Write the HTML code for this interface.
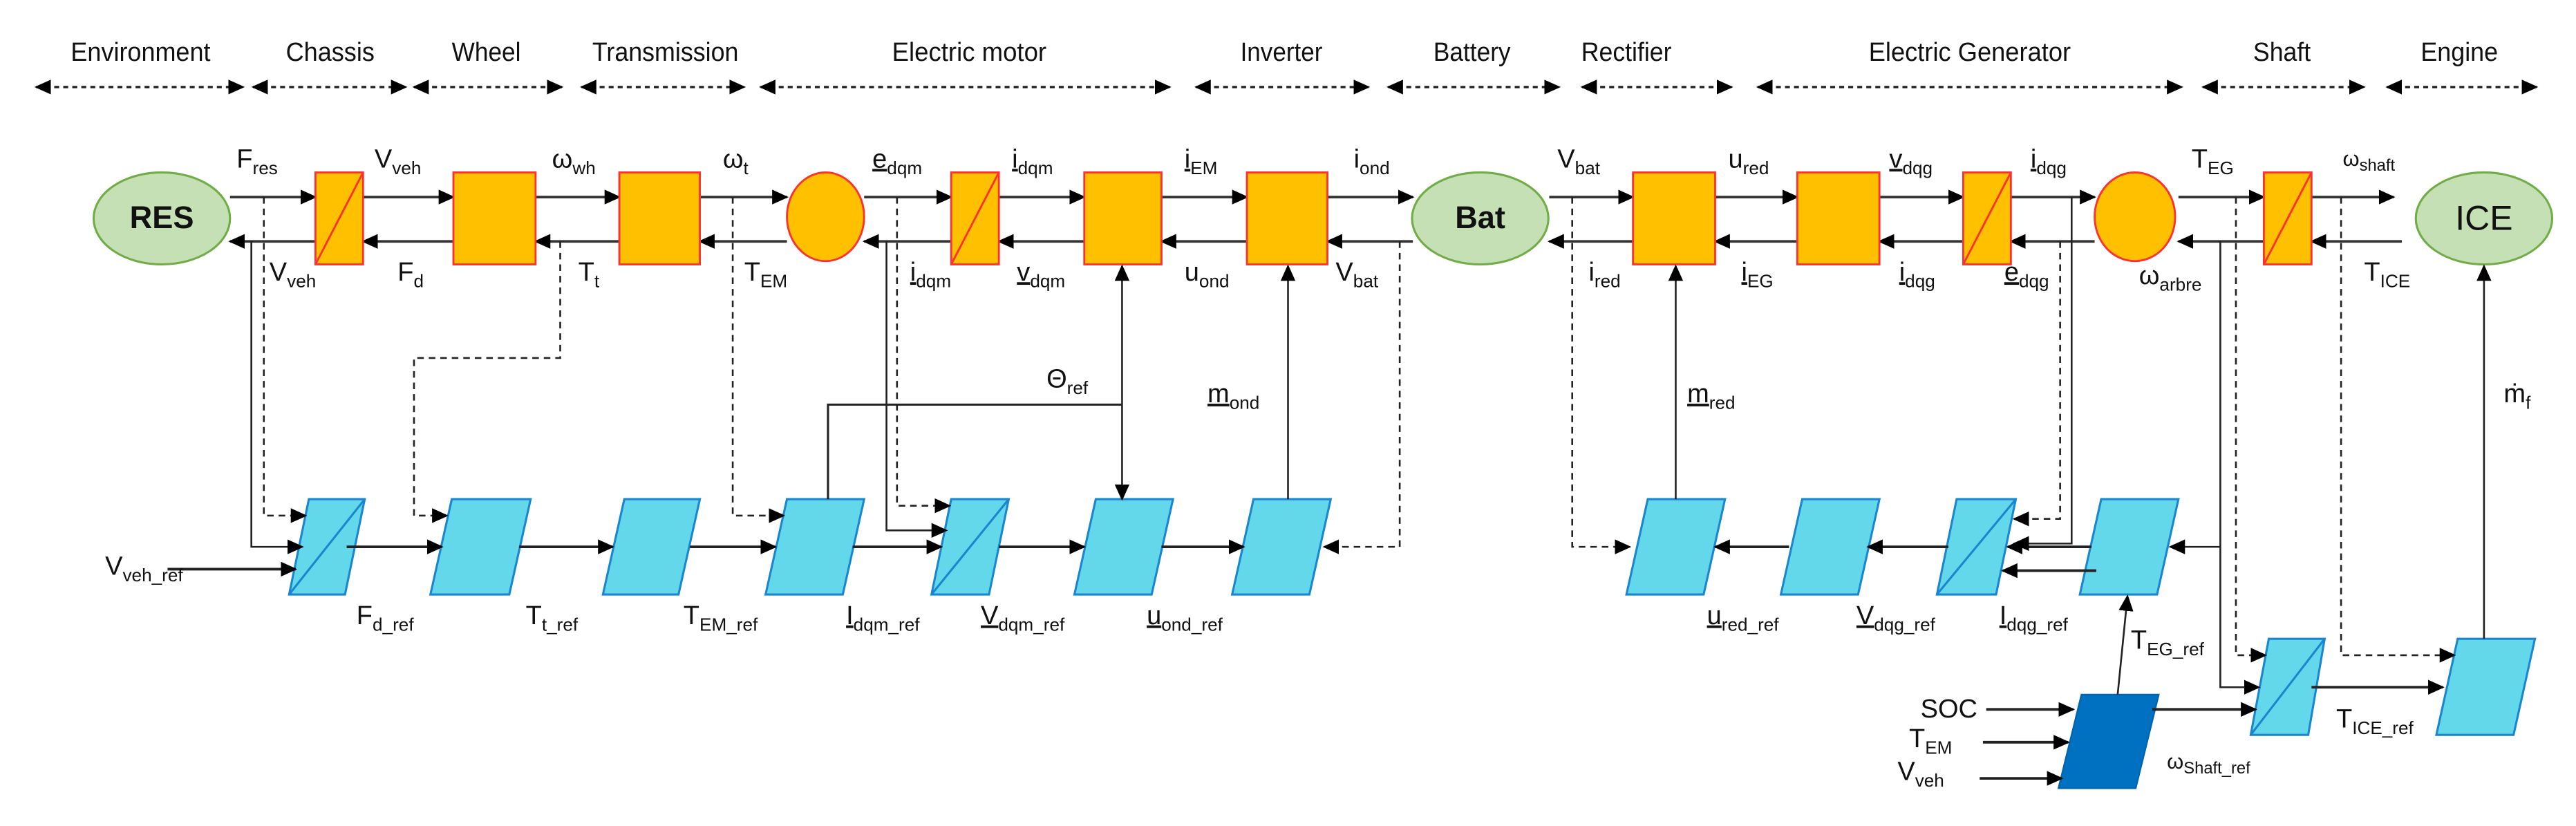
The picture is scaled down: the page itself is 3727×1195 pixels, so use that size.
<!DOCTYPE html>
<html><head><meta charset="utf-8"><style>
html,body{margin:0;padding:0;background:#fff;}
svg{display:block;}
text{font-family:"Liberation Sans Narrow","Liberation Sans",sans-serif;fill:#111;}
.t{font-size:16px;}
.v{font-size:16px;}
.s{font-size:11px;}
</style></head><body>
<svg width="3727" height="1195" viewBox="0 0 1568 503" preserveAspectRatio="none" xmlns="http://www.w3.org/2000/svg">
<defs>
<marker id="a" markerUnits="userSpaceOnUse" markerWidth="10" markerHeight="10" refX="9" refY="5" orient="auto"><path d="M0,0.5 L10,5 L0,9.5 Z" fill="#000"/></marker>
<marker id="as" markerUnits="userSpaceOnUse" markerWidth="10" markerHeight="10" refX="1" refY="5" orient="auto"><path d="M10,0.5 L0,5 L10,9.5 Z" fill="#000"/></marker>
</defs>
<g fill="none">
<!-- top dashed section arrows -->
<g stroke="#222" stroke-width="1.4" stroke-dasharray="3,2.5" marker-start="url(#as)" marker-end="url(#a)">
<line x1="22" y1="53" x2="148" y2="53"/><line x1="154" y1="53" x2="247" y2="53"/>
<line x1="252" y1="53" x2="342" y2="53"/><line x1="354" y1="53" x2="453" y2="53"/>
<line x1="463" y1="53" x2="712" y2="53"/><line x1="728" y1="53" x2="833" y2="53"/>
<line x1="845" y1="53" x2="949" y2="53"/><line x1="963" y1="53" x2="1054" y2="53"/>
<line x1="1070" y1="53" x2="1328" y2="53"/><line x1="1341" y1="53" x2="1439" y2="53"/>
<line x1="1453" y1="53" x2="1544" y2="53"/>
</g>
<!-- main arrows -->
<g stroke="#333" stroke-width="1.6" marker-end="url(#a)">
<line x1="140" y1="120" x2="192" y2="120"/><line x1="221" y1="120" x2="276" y2="120"/>
<line x1="326" y1="120" x2="377" y2="120"/><line x1="426" y1="120" x2="479" y2="120"/>
<line x1="526" y1="120" x2="579" y2="120"/><line x1="608" y1="120" x2="660" y2="120"/>
<line x1="707" y1="120" x2="759" y2="120"/><line x1="808" y1="120" x2="860" y2="120"/>
<line x1="943" y1="120" x2="994" y2="120"/><line x1="1044" y1="120" x2="1094" y2="120"/>
<line x1="1144" y1="120" x2="1195" y2="120"/><line x1="1224" y1="120" x2="1275" y2="120"/>
<line x1="1326" y1="120" x2="1378" y2="120"/><line x1="1407" y1="120" x2="1457" y2="120"/>
<line x2="140" y2="147" x1="192" y1="147"/><line x2="221" y2="147" x1="276" y1="147"/>
<line x2="326" y2="147" x1="377" y1="147"/><line x2="426" y2="147" x1="479" y1="147"/>
<line x2="526" y2="147" x1="579" y1="147"/><line x2="608" y2="147" x1="660" y1="147"/>
<line x2="707" y2="147" x1="759" y1="147"/><line x2="808" y2="147" x1="860" y1="147"/>
<line x2="943" y2="147" x1="994" y1="147"/><line x2="1044" y2="147" x1="1094" y1="147"/>
<line x2="1144" y2="147" x1="1195" y1="147"/><line x2="1224" y2="147" x1="1275" y1="147"/>
<line x2="1326" y2="147" x1="1378" y1="147"/><line x2="1407" y2="147" x1="1462" y1="147"/>
</g>
<!-- nodes -->
<g stroke="#ff3030" stroke-width="1.2" fill="#ffc000">
<rect x="192" y="105" width="29" height="56"/><line x1="192" y1="161" x2="221" y2="105"/>
<rect x="276" y="105" width="50" height="56"/>
<rect x="377" y="105" width="49" height="56"/>
<ellipse cx="502.5" cy="132" rx="23.5" ry="27"/>
<rect x="579" y="105" width="29" height="56"/><line x1="579" y1="161" x2="608" y2="105"/>
<rect x="660" y="105" width="47" height="56"/>
<rect x="759" y="105" width="49" height="56"/>
<rect x="994" y="105" width="50" height="56"/>
<rect x="1094" y="105" width="50" height="56"/>
<rect x="1195" y="105" width="29" height="56"/><line x1="1195" y1="161" x2="1224" y2="105"/>
<ellipse cx="1299.5" cy="132" rx="24.5" ry="27"/>
<rect x="1378" y="105" width="29" height="56"/><line x1="1378" y1="161" x2="1407" y2="105"/>
</g>
<g stroke="#70ad47" stroke-width="1.3" fill="#c5e0b4">
<ellipse cx="98.5" cy="133" rx="41.5" ry="28"/>
<ellipse cx="901" cy="133" rx="41.5" ry="28"/>
<ellipse cx="1512" cy="133" rx="41.5" ry="28"/>
</g>
<!-- parallelograms -->
<g stroke="#1b86d0" stroke-width="1.3" fill="#63d8ea">
<path d="M188,304 L222,304 L210,362 L176,362 Z"/><line x1="176" y1="362" x2="222" y2="304"/>
<path d="M275,304 L323,304 L310,362 L262,362 Z"/>
<path d="M380,304 L426,304 L413,362 L367,362 Z"/>
<path d="M479,304 L526,304 L513,362 L466,362 Z"/>
<path d="M579,304 L614,304 L602,362 L567,362 Z"/><line x1="567" y1="362" x2="614" y2="304"/>
<path d="M667,304 L714,304 L701,362 L654,362 Z"/>
<path d="M763,304 L810,304 L797,362 L750,362 Z"/>
<path d="M1003,304 L1050,304 L1037,362 L990,362 Z"/>
<path d="M1097,304 L1144,304 L1131,362 L1084,362 Z"/>
<path d="M1191,304 L1227,304 L1215,362 L1179,362 Z"/><line x1="1179" y1="362" x2="1227" y2="304"/>
<path d="M1279,304 L1326,304 L1313,362 L1266,362 Z"/>
<path d="M1381,389 L1415,389 L1405,447.5 L1370,447.5 Z"/><line x1="1370" y1="447.5" x2="1415" y2="389"/>
<path d="M1496,389 L1543,389 L1530,447.5 L1483,447.5 Z"/>
</g>
<path d="M1267,423 L1314,423 L1300,480 L1253,480 Z" fill="#0070c0" stroke="#0064b0" stroke-width="1"/>
<!-- bottom chain arrows -->
<g stroke="#222" stroke-width="1.6" marker-end="url(#a)">
<line x1="211" y1="333" x2="269" y2="333"/><line x1="316" y1="333" x2="373" y2="333"/>
<line x1="420" y1="333" x2="472" y2="333"/><line x1="519" y1="333" x2="573" y2="333"/>
<line x1="608" y1="333" x2="660" y2="333"/><line x1="707" y1="333" x2="757" y2="333"/>
<line x1="1089" y1="333" x2="1044" y2="333"/><line x1="1186" y1="333" x2="1137" y2="333"/>
<line x1="1273" y1="333" x2="1222" y2="333"/>
<line x1="1276" y1="347.5" x2="1219" y2="347.5"/>
<line x1="102" y1="346.6" x2="180" y2="346.6"/>
<line x1="1209" y1="432" x2="1262" y2="432"/><line x1="1207" y1="452" x2="1259" y2="452"/><line x1="1205" y1="474" x2="1255" y2="474"/>
<line x1="1310" y1="432" x2="1373" y2="432"/>
<line x1="1407" y1="418.5" x2="1487" y2="418.5"/>
</g>
<!-- solid feedback connectors -->
<g stroke="#222" stroke-width="1.1" marker-end="url(#a)">
<polyline points="153,147 153,333 184,333"/>
<polyline points="539.6,147 539.6,323 576,323"/>
<line x1="784" y1="304" x2="784" y2="162"/>
<line x1="1020" y1="304" x2="1020" y2="162"/>
<polyline points="1261,120 1261,331 1226,331"/>
<polyline points="1351.5,147 1351.5,418.5 1375,418.5"/>
<line x1="1351.5" y1="333" x2="1321" y2="333"/>
<line x1="1512" y1="389" x2="1512" y2="162"/>
<line x1="1289" y1="423" x2="1295" y2="363"/>
<line x1="683" y1="246" x2="683" y2="304"/>
<line x1="683" y1="246" x2="683" y2="162"/>
</g>
<polyline points="504,304 504,246.4 683,246.4" stroke="#222" stroke-width="1.3"/>
<!-- dashed feedback connectors -->
<g stroke="#222" stroke-width="1.1" stroke-dasharray="4,3" marker-end="url(#a)">
<polyline points="160.6,120 160.6,314 186,314"/>
<polyline points="341,147 341,218 252,218 252,314 272,314"/>
<polyline points="446,120 446,314 477,314"/>
<polyline points="546,120 546,308 578,308"/>
<polyline points="852,147 852,333 806,333"/>
<polyline points="957,120 957,333 992,333"/>
<polyline points="1254,147 1254,316 1226,316"/>
<polyline points="1361,120 1361,399 1379,399"/>
<polyline points="1425,120 1425,399 1494,399"/>
</g>
</g>
<!-- node labels -->
<text x="98.5" y="139" text-anchor="middle" style="font-family:'Liberation Sans',sans-serif;font-weight:bold;font-size:19px">RES</text>
<text x="901" y="139" text-anchor="middle" style="font-family:'Liberation Sans',sans-serif;font-weight:bold;font-size:19px">Bat</text>
<text x="1512" y="140" text-anchor="middle" style="font-family:'Liberation Sans',sans-serif;font-size:21px">ICE</text>
<!-- section labels -->
<g class="t">
<text x="85.6" y="37" text-anchor="middle" textLength="85" lengthAdjust="spacingAndGlyphs">Environment</text>
<text x="201" y="37" text-anchor="middle" textLength="54" lengthAdjust="spacingAndGlyphs">Chassis</text>
<text x="296" y="37" text-anchor="middle" textLength="42" lengthAdjust="spacingAndGlyphs">Wheel</text>
<text x="405" y="37" text-anchor="middle" textLength="89" lengthAdjust="spacingAndGlyphs">Transmission</text>
<text x="590" y="37" text-anchor="middle" textLength="94" lengthAdjust="spacingAndGlyphs">Electric motor</text>
<text x="780" y="37" text-anchor="middle" textLength="50" lengthAdjust="spacingAndGlyphs">Inverter</text>
<text x="896" y="37" text-anchor="middle" textLength="47" lengthAdjust="spacingAndGlyphs">Battery</text>
<text x="990" y="37" text-anchor="middle" textLength="55" lengthAdjust="spacingAndGlyphs">Rectifier</text>
<text x="1199" y="37" text-anchor="middle" textLength="123" lengthAdjust="spacingAndGlyphs">Electric Generator</text>
<text x="1389" y="37" text-anchor="middle" textLength="35" lengthAdjust="spacingAndGlyphs">Shaft</text>
<text x="1497" y="37" text-anchor="middle" textLength="47" lengthAdjust="spacingAndGlyphs">Engine</text>
</g>
<g class="v">
<!-- upper -->
<text x="144" y="102">F<tspan class="s" dy="4">res</tspan></text>
<text x="228" y="102">V<tspan class="s" dy="4">veh</tspan></text>
<text x="336" y="102">ω<tspan class="s" dy="4">wh</tspan></text>
<text x="440" y="102">ω<tspan class="s" dy="4">t</tspan></text>
<text x="531" y="102"><tspan text-decoration="underline">e</tspan><tspan class="s" dy="4">dqm</tspan></text>
<text x="616" y="102"><tspan text-decoration="underline">i</tspan><tspan class="s" dy="4">dqm</tspan></text>
<text x="721" y="102"><tspan text-decoration="underline">i</tspan><tspan class="s" dy="4">EM</tspan></text>
<text x="824" y="102">i<tspan class="s" dy="4">ond</tspan></text>
<text x="948" y="102">V<tspan class="s" dy="4">bat</tspan></text>
<text x="1052" y="102">u<tspan class="s" dy="4">red</tspan></text>
<text x="1150" y="102"><tspan text-decoration="underline">v</tspan><tspan class="s" dy="4">dqg</tspan></text>
<text x="1236" y="102"><tspan text-decoration="underline">i</tspan><tspan class="s" dy="4">dqg</tspan></text>
<text x="1334" y="102">T<tspan class="s" dy="4">EG</tspan></text>
<text x="1426" y="101" style="font-size:13px">ω<tspan style="font-size:10px" dy="3">shaft</tspan></text>
<!-- lower -->
<text x="164" y="171">V<tspan class="s" dy="4">veh</tspan></text>
<text x="242" y="171">F<tspan class="s" dy="4">d</tspan></text>
<text x="352" y="171">T<tspan class="s" dy="4">t</tspan></text>
<text x="453" y="171">T<tspan class="s" dy="4">EM</tspan></text>
<text x="554" y="171"><tspan text-decoration="underline">i</tspan><tspan class="s" dy="4">dqm</tspan></text>
<text x="619" y="171"><tspan text-decoration="underline">v</tspan><tspan class="s" dy="4">dqm</tspan></text>
<text x="721" y="171">u<tspan class="s" dy="4">ond</tspan></text>
<text x="813" y="171">V<tspan class="s" dy="4">bat</tspan></text>
<text x="967" y="171">i<tspan class="s" dy="4">red</tspan></text>
<text x="1060" y="171"><tspan text-decoration="underline">i</tspan><tspan class="s" dy="4">EG</tspan></text>
<text x="1156" y="171"><tspan text-decoration="underline">i</tspan><tspan class="s" dy="4">dqg</tspan></text>
<text x="1220" y="171"><tspan text-decoration="underline">e</tspan><tspan class="s" dy="4">dqg</tspan></text>
<text x="1302" y="173">ω<tspan class="s" dy="4">arbre</tspan></text>
<text x="1439" y="171">T<tspan class="s" dy="4">ICE</tspan></text>
<!-- mid -->
<text x="637" y="236">Θ<tspan class="s" dy="4">ref</tspan></text>
<text x="735" y="245"><tspan text-decoration="underline">m</tspan><tspan class="s" dy="4">ond</tspan></text>
<text x="1027" y="245"><tspan text-decoration="underline">m</tspan><tspan class="s" dy="4">red</tspan></text>
<text x="1524" y="245">ṁ<tspan class="s" dy="4">f</tspan></text>
<!-- bottom -->
<text x="64" y="350">V<tspan class="s" dy="4">veh_ref</tspan></text>
<text x="217" y="380">F<tspan class="s" dy="4">d_ref</tspan></text>
<text x="320" y="380">T<tspan class="s" dy="4">t_ref</tspan></text>
<text x="416" y="380">T<tspan class="s" dy="4">EM_ref</tspan></text>
<text x="515" y="380"><tspan text-decoration="underline">I</tspan><tspan class="s" dy="4">dqm_ref</tspan></text>
<text x="597" y="380"><tspan text-decoration="underline">V</tspan><tspan class="s" dy="4">dqm_ref</tspan></text>
<text x="698" y="380"><tspan text-decoration="underline">u</tspan><tspan class="s" dy="4">ond_ref</tspan></text>
<text x="1039" y="380"><tspan text-decoration="underline">u</tspan><tspan class="s" dy="4">red_ref</tspan></text>
<text x="1130" y="380"><tspan text-decoration="underline">V</tspan><tspan class="s" dy="4">dqg_ref</tspan></text>
<text x="1217" y="380"><tspan text-decoration="underline">I</tspan><tspan class="s" dy="4">dqg_ref</tspan></text>
<text x="1297" y="395">T<tspan class="s" dy="4">EG_ref</tspan></text>
<text x="1169" y="437">SOC</text>
<text x="1162" y="455">T<tspan class="s" dy="4">EM</tspan></text>
<text x="1155" y="475">V<tspan class="s" dy="4">veh</tspan></text>
<text x="1319" y="468" style="font-size:13px">ω<tspan style="font-size:10px" dy="3">Shaft_ref</tspan></text>
<text x="1422" y="443">T<tspan class="s" dy="4">ICE_ref</tspan></text>
</g>
</svg>
</body></html>
